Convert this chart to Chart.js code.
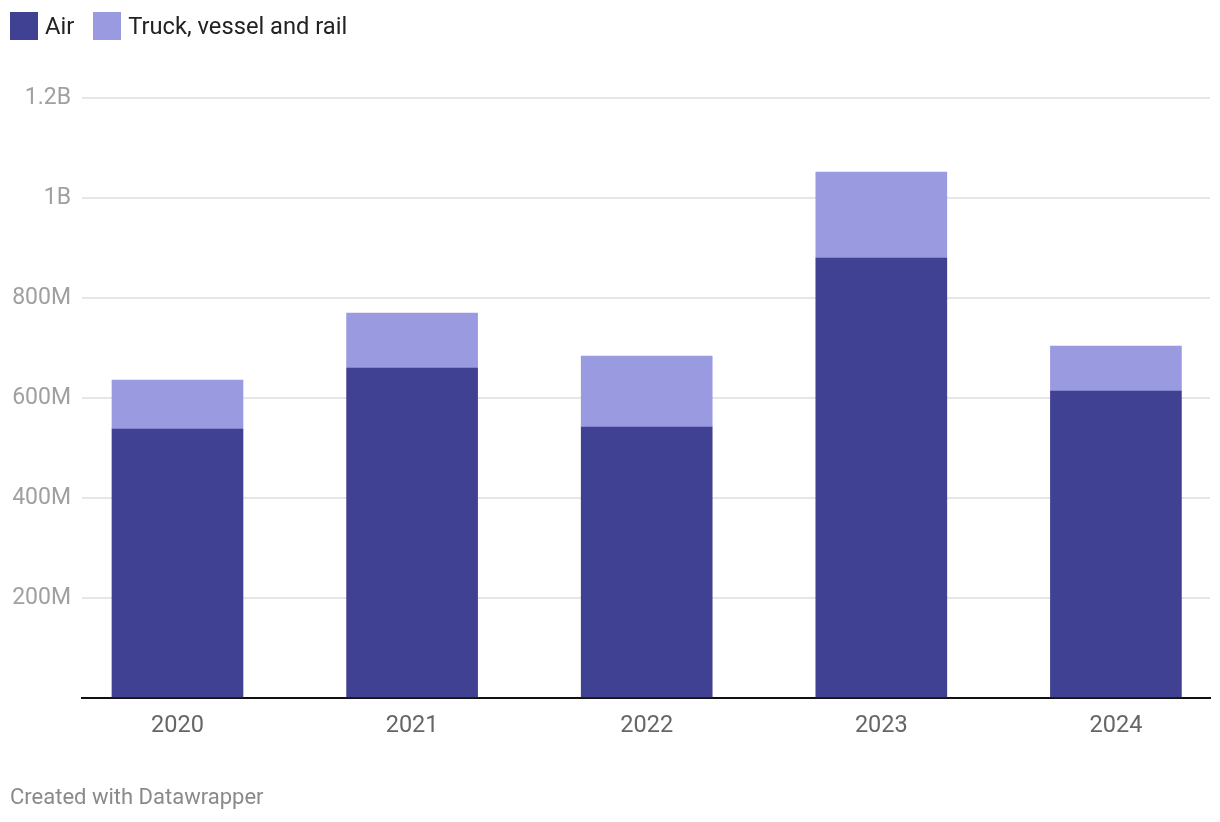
<!DOCTYPE html>
<html>
<head>
<meta charset="utf-8">
<script src="https://cdn.jsdelivr.net/npm/chart.js@4"></script>
<style>
  html, body { margin: 0; padding: 0; background: #fff; }
  body { width: 1220px; height: 822px; position: relative; overflow: hidden; font-family: Roboto, "Noto Sans", sans-serif; }
  #wrap { position: absolute; left: 0; top: 0; width: 1220px; height: 822px; }
  .legend { position: absolute; top: 12px; left: 10px; display: flex; align-items: center; font-size: 23.7px; color: #222; }
  .legend .item { display: flex; align-items: center; margin-right: 19px; }
  .legend .sw { width: 28px; height: 28px; margin-right: 7px; }
  .footer { position: absolute; left: 10px; top: 784px; font-size: 22px; color: #8a8a8a; }
</style>
</head>
<body>
<div id="wrap"><canvas id="c" width="1220" height="822"></canvas></div>
<div class="legend" id="legend"></div>
<div class="footer">Created with Datawrapper</div>
<script>
const years = ['2020', '2021', '2022', '2023', '2024'];
const airValues = [538e6, 660e6, 542e6, 880e6, 614e6];
const truckValues = [98e6, 110e6, 142e6, 172e6, 90e6];
const seriesNames = ['Air', 'Truck, vessel and rail'];
const seriesColors = ['#404192', '#9a9ae1'];
const yTickValues = [0, 200e6, 400e6, 600e6, 800e6, 1000e6, 1200e6];
const yTickLabels = ['', '200M', '400M', '600M', '800M', '1B', '1.2B'];

// legend (HTML)
const lg = document.getElementById('legend');
seriesNames.forEach((n, i) => {
  const it = document.createElement('div'); it.className = 'item';
  const sw = document.createElement('div'); sw.className = 'sw'; sw.style.background = seriesColors[i];
  const tx = document.createElement('span'); tx.textContent = n;
  it.appendChild(sw); it.appendChild(tx); lg.appendChild(it);
});

const xNums = years.map(Number);
const mk = (vals) => vals.map((v, i) => ({ x: xNums[i], y: v }));

new Chart(document.getElementById('c'), {
  type: 'bar',
  data: {
    datasets: [
      { label: seriesNames[0], data: mk(airValues), backgroundColor: seriesColors[0], barThickness: 131, borderWidth: 0 },
      { label: seriesNames[1], data: mk(truckValues), backgroundColor: seriesColors[1], barThickness: 131, borderWidth: 0 }
    ]
  },
  options: {
    responsive: false,
    animation: false,
    layout: { padding: { top: 98, right: 10, bottom: 0, left: 0 } },
    plugins: { legend: { display: false }, tooltip: { enabled: false } },
    scales: {
      x: {
        type: 'linear',
        stacked: true,
        offset: false,
        min: 2019.593,
        max: 2024.401,
        afterBuildTicks: (s) => { s.ticks = xNums.map(v => ({ value: v })); },
        afterFit: (s) => { s.height = 124; },
        grid: { display: false, drawTicks: false, offset: false },
        border: { display: true, color: '#111', width: 2 },
        ticks: {
          padding: 14,
          color: '#666',
          font: { family: 'Roboto', size: 23.5 },
          callback: (v) => String(v)
        }
      },
      y: {
        stacked: true,
        min: 0,
        max: 1200e6,
        afterBuildTicks: (s) => { s.ticks = yTickValues.map(v => ({ value: v })); },
        afterFit: (s) => { s.width = 82; },
        grid: { color: '#e6e6e6', lineWidth: 2, drawTicks: false },
        border: { display: false },
        ticks: {
          padding: 11,
          color: '#a0a0a0',
          font: { family: 'Roboto', size: 23 },
          callback: (v) => { const i = yTickValues.indexOf(v); return i >= 0 ? yTickLabels[i] : ''; }
        }
      }
    }
  }
});
</script>
</body>
</html>
